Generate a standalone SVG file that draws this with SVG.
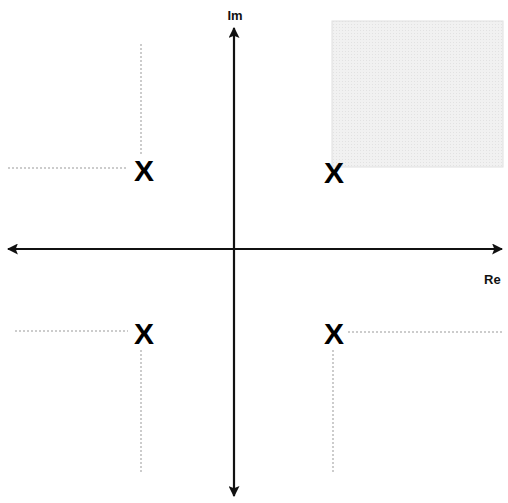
<svg xmlns="http://www.w3.org/2000/svg" width="508" height="503" viewBox="0 0 508 503">
<style>
.axis{stroke:#111;stroke-width:2.2;fill:none}
.dot{stroke:#999;stroke-width:1;stroke-dasharray:2 2;fill:none}
.x{font-family:"Liberation Sans",Arial,sans-serif;font-weight:bold;font-size:30px;fill:#000}
.lbl{font-family:"Liberation Sans",Arial,sans-serif;font-weight:bold;font-size:13px;fill:#111}
</style>
<defs>
<marker id="ah" viewBox="0 0 10 10" refX="9" refY="5" markerWidth="5" markerHeight="5" orient="auto-start-reverse" markerUnits="strokeWidth">
<path d="M0,0 L10,5 L0,10 L2,5 z" fill="#111"/>
</marker>
<pattern id="pt" width="3" height="3" patternUnits="userSpaceOnUse">
<rect width="3" height="3" fill="#f1f1f1"/>
<rect width="1" height="1" fill="#e2e2e2"/>
</pattern>
</defs>
<rect width="508" height="503" fill="#fff"/>
<g id="region">
<rect x="332" y="21" width="171" height="146" fill="url(#pt)" stroke="#e0e0e0" stroke-width="1"/>
</g>
<g id="connectors">
<line class="axis" x1="234" y1="496" x2="234" y2="28" marker-start="url(#ah)" marker-end="url(#ah)"/>
<line class="axis" x1="8" y1="249" x2="502" y2="249" marker-start="url(#ah)" marker-end="url(#ah)"/>
<line class="dot" x1="141" y1="44" x2="141" y2="155"/>
<line class="dot" x1="8" y1="168" x2="128" y2="168"/>
<line class="dot" x1="15" y1="331" x2="128" y2="331"/>
<line class="dot" x1="141" y1="350" x2="141" y2="473"/>
<line class="dot" x1="348" y1="332" x2="503" y2="332"/>
<line class="dot" x1="333" y1="350" x2="333" y2="473"/>
</g>
<g id="pole1"><text class="x" x="144" y="181" text-anchor="middle">X</text></g>
<g id="pole2"><text class="x" x="334" y="183" text-anchor="middle">X</text></g>
<g id="pole3"><text class="x" x="144" y="344" text-anchor="middle">X</text></g>
<g id="pole4"><text class="x" x="334" y="344" text-anchor="middle">X</text></g>
<g id="labels">
<text class="lbl" x="235" y="20" text-anchor="middle">Im</text>
<text class="lbl" x="484" y="284">Re</text>
</g>
</svg>
